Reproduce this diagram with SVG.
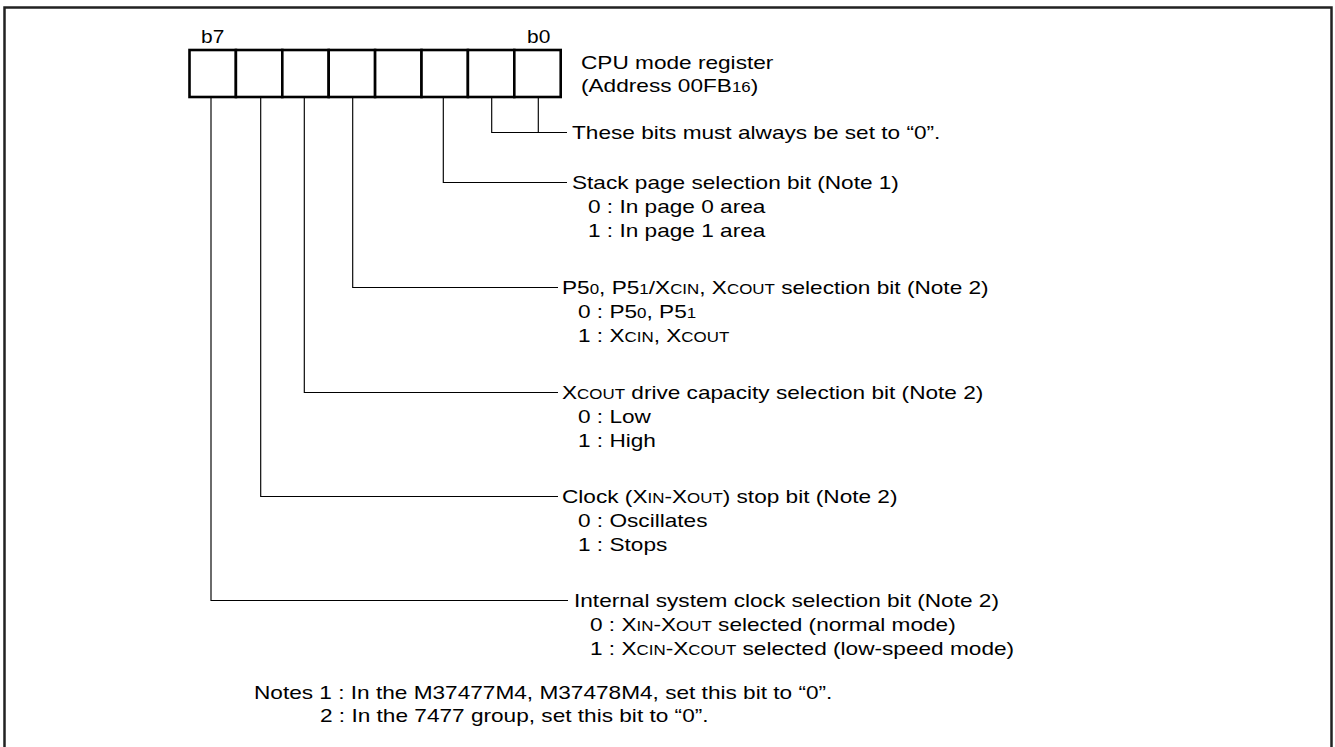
<svg xmlns="http://www.w3.org/2000/svg" width="1335" height="747" viewBox="0 0 1335 747">
<style>
text{font-family:"Liberation Sans",Arial,sans-serif;font-size:18.7px;fill:#000}
.s{font-size:14px}
.lead{fill:none;stroke:#000;stroke-width:1.15}
.cell{fill:#fff;stroke:#000;stroke-width:2.6}
</style>
<rect x="4.5" y="7.5" width="1327" height="760" fill="#fff" stroke="#222" stroke-width="2.5"/>
<g id="register">
<text transform="matrix(1.12 0 0 1 201 0)" y="43">b7</text>
<text transform="matrix(1.12 0 0 1 527 0)" y="43">b0</text>
<rect class="cell" x="189.5" y="50" width="46.4" height="47"/>
<rect class="cell" x="235.9" y="50" width="46.4" height="47"/>
<rect class="cell" x="282.3" y="50" width="46.4" height="47"/>
<rect class="cell" x="328.7" y="50" width="46.4" height="47"/>
<rect class="cell" x="375.1" y="50" width="46.4" height="47"/>
<rect class="cell" x="421.5" y="50" width="46.4" height="47"/>
<rect class="cell" x="467.9" y="50" width="46.4" height="47"/>
<rect class="cell" x="514.3" y="50" width="46.4" height="47"/>
<text transform="matrix(1.21 0 0 1 581 0)" y="69">CPU mode register</text>
<text transform="matrix(1.21 0 0 1 581 0)" y="92">(Address 00FB<tspan class="s">16</tspan>)</text>
</g>
<g id="connectors">
<polyline class="lead" points="491.7,97 491.7,132.5 567,132.5"/>
<line class="lead" x1="538.3" y1="97" x2="538.3" y2="132.5"/>
<polyline class="lead" points="443.3,97 443.3,182.5 567,182.5"/>
<polyline class="lead" points="352.7,97 352.7,287.5 558,287.5"/>
<polyline class="lead" points="304.3,97 304.3,392.5 558,392.5"/>
<polyline class="lead" points="260.7,97 260.7,496.5 558,496.5"/>
<polyline class="lead" points="211,97 211,600.5 568,600.5"/>
</g>
<g id="bits10">
<text transform="matrix(1.21 0 0 1 572 0)" y="139.5">These bits must always be set to “0”.</text>
</g>
<g id="bit2">
<text transform="matrix(1.21 0 0 1 572 0)" y="189.5">Stack page selection bit (Note 1)</text>
<text transform="matrix(1.21 0 0 1 588 0)" y="213">0 : In page 0 area</text>
<text transform="matrix(1.21 0 0 1 588 0)" y="237">1 : In page 1 area</text>
</g>
<g id="bit4">
<text transform="matrix(1.21 0 0 1 562 0)" y="294.5">P5<tspan class="s">0</tspan>, P5<tspan class="s">1</tspan>/X<tspan class="s">CIN</tspan>, X<tspan class="s">COUT</tspan> selection bit (Note 2)</text>
<text transform="matrix(1.21 0 0 1 578 0)" y="318.5">0 : P5<tspan class="s">0</tspan>, P5<tspan class="s">1</tspan></text>
<text transform="matrix(1.21 0 0 1 578 0)" y="342.5">1 : X<tspan class="s">CIN</tspan>, X<tspan class="s">COUT</tspan></text>
</g>
<g id="bit5">
<text transform="matrix(1.21 0 0 1 562 0)" y="399.5">X<tspan class="s">COUT</tspan> drive capacity selection bit (Note 2)</text>
<text transform="matrix(1.21 0 0 1 578 0)" y="423.5">0 : Low</text>
<text transform="matrix(1.21 0 0 1 578 0)" y="447.5">1 : High</text>
</g>
<g id="bit6">
<text transform="matrix(1.21 0 0 1 562 0)" y="503.5">Clock (X<tspan class="s">IN</tspan>-X<tspan class="s">OUT</tspan>) stop bit (Note 2)</text>
<text transform="matrix(1.21 0 0 1 578 0)" y="527.5">0 : Oscillates</text>
<text transform="matrix(1.21 0 0 1 578 0)" y="551.5">1 : Stops</text>
</g>
<g id="bit7">
<text transform="matrix(1.21 0 0 1 574 0)" y="607.5">Internal system clock selection bit (Note 2)</text>
<text transform="matrix(1.21 0 0 1 590 0)" y="631.5">0 : X<tspan class="s">IN</tspan>-X<tspan class="s">OUT</tspan> selected (normal mode)</text>
<text transform="matrix(1.21 0 0 1 590 0)" y="655.5">1 : X<tspan class="s">CIN</tspan>-X<tspan class="s">COUT</tspan> selected (low-speed mode)</text>
</g>
<g id="notes">
<text transform="matrix(1.21 0 0 1 254 0)" y="699">Notes 1 : In the M37477M4, M37478M4, set this bit to “0”.</text>
<text transform="matrix(1.21 0 0 1 320 0)" y="722">2 : In the 7477 group, set this bit to “0”.</text>
</g>
</svg>
